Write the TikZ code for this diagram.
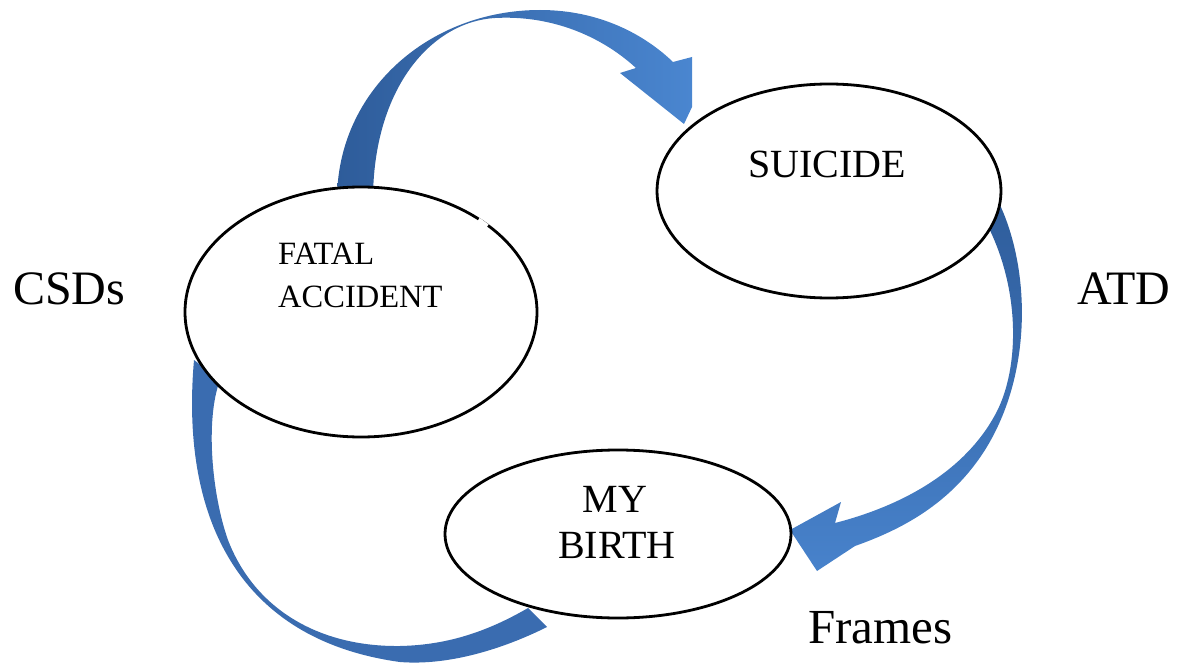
\documentclass[tikz,border=0pt]{standalone}
\usepackage{fontspec}
\setmainfont{Liberation Serif}
\usetikzlibrary{shapes.geometric}
\definecolor{bluedark}{RGB}{46,92,154}
\definecolor{bluemid}{RGB}{58,108,176}
\definecolor{bluelight}{RGB}{74,134,208}
\tikzset{
  oval/.style={ellipse, draw=black, line width=2.8pt, fill=white, inner sep=0pt},
  lbl/.style={inner sep=0pt, anchor=base west, text=black},
}
\begin{document}
\begin{tikzpicture}[x=1pt,y=-1pt]
\useasboundingbox (0,0) rectangle (1189,671);
% arrow 1: FATAL ACCIDENT -> SUICIDE
\shade[left color=bluedark, right color=bluelight]
  (337,200) .. controls (337,90) and (430,10) .. (540,10)
  .. controls (600,10) and (645,35) .. (673,62)
  -- (692,57) -- (692,107) -- (684,124) -- (620,73) -- (636,68)
  .. controls (600,35) and (550,15) .. (495,18)
  .. controls (430,22) and (373,90) .. (373,200)
  -- cycle;
% arrow 2: SUICIDE -> MY BIRTH
\shade[top color=bluedark, bottom color=bluelight!85!bluemid]
  (995,195) .. controls (1030,260) and (1035,370) .. (985,450)
  .. controls (950,505) and (900,530) .. (855,546)
  -- (817,571) -- (790,530) -- (841,502) -- (835,523)
  .. controls (905,505) and (965,470) .. (995,415)
  .. controls (1020,370) and (1022,285) .. (982,215)
  -- cycle;
% arrow 3: FATAL ACCIDENT -> MY BIRTH (flat end)
\fill[bluemid]
  (194,360) .. controls (180,520) and (240,640) .. (400,662)
  .. controls (450,666) and (505,648) .. (547,627)
  -- (528,608)
  .. controls (490,630) and (450,645) .. (400,646)
  .. controls (320,647) and (255,610) .. (228,540)
  .. controls (212,495) and (205,420) .. (220,380)
  -- cycle;
% ellipses
\node[oval, minimum width=352pt, minimum height=250pt] (fa) at (361,312) {};
\node[oval, minimum width=344pt, minimum height=214pt] (su) at (829,191) {};
\node[oval, minimum width=346pt, minimum height=168pt] (mb) at (618,534) {};
\draw[white, line width=4pt] (478.5,219.5) -- (487.5,226);
% texts
\node[lbl, font=\fontsize{32.5}{36}\selectfont] (t1) at (278,265) {FATAL};
\node[lbl, font=\fontsize{32.5}{36}\selectfont] (t2) at (278,307) {ACCIDENT};
\node[lbl, font=\fontsize{40}{44}\selectfont] (t3) at (748,178) {SUICIDE};
\node[inner sep=0pt, anchor=base, font=\fontsize{40}{44}\selectfont] (t4) at (615,512) {MY};
\node[inner sep=0pt, anchor=base, font=\fontsize{40}{44}\selectfont] (t5) at (617,558) {BIRTH};
\node[lbl, font=\fontsize{48}{52}\selectfont] (csd) at (13,305) {CSDs};
\node[lbl, font=\fontsize{48}{52}\selectfont] (atd) at (1077,305) {ATD};
\node[lbl, font=\fontsize{49}{53}\selectfont] (frm) at (808,643) {Frames};
\end{tikzpicture}
\end{document}
